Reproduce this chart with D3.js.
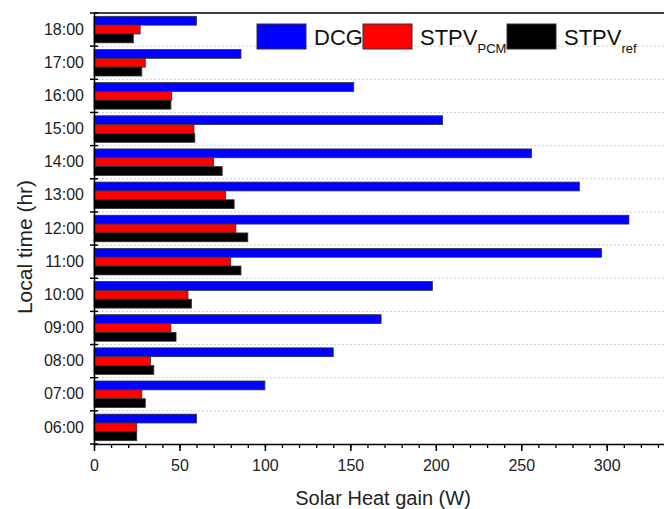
<!DOCTYPE html>
<html>
<head>
<meta charset="utf-8">
<script src="https://cdn.jsdelivr.net/npm/d3@7"></script>
<style>
  html, body { margin: 0; padding: 0; background: #fff; }
  svg { display: block; font-family: "Liberation Sans", Arial, sans-serif; }
</style>
</head>
<body>
<svg id="chart" width="664" height="509"></svg>
<script>
// Hourly solar heat gain for three glazing configurations
const hours = ["06:00","07:00","08:00","09:00","10:00","11:00","12:00","13:00","14:00","15:00","16:00","17:00","18:00"];
const dcg     = [60, 100, 140, 168, 198, 297, 313, 284, 256, 204, 152, 86, 60];
const stpvPcm = [25, 28, 33, 45, 55, 80, 83, 77, 70, 58.5, 45.5, 30, 27];
const stpvRef = [25, 30, 35, 48, 57, 86, 90, 82, 75, 59, 45, 28, 23];
const seriesNames = ["DCG", "STPV_PCM", "STPV_ref"];
const seriesColors = ["#0000ff", "#ff0000", "#000000"];
const xMajorTicks = [0, 50, 100, 150, 200, 250, 300];

const svg = d3.select("#chart");
const margin = { left: 94, top: 13, bottom: 444 };
const xMax = 340;
const FONT = "'Liberation Sans', Arial, sans-serif";

const x = d3.scaleLinear().domain([0, xMax]).range([margin.left, margin.left + xMax * 1.709]);
const y = d3.scaleBand().domain(hours.slice().reverse()).range([margin.top, margin.bottom]).paddingInner(0).paddingOuter(0);
const inner = d3.scaleBand().domain(seriesNames).range([y.bandwidth() * 0.1, y.bandwidth() * 0.9]);

const values = [dcg, stpvPcm, stpvRef];

// dotted gridlines at category boundaries
const boundaries = hours.map(h => y(h)).concat([margin.bottom]);
svg.append("g").selectAll("line")
  .data(boundaries.filter(b => b > margin.top + 1 && b < margin.bottom - 1))
  .join("line")
  .attr("x1", margin.left).attr("x2", 664)
  .attr("y1", d => d).attr("y2", d => d)
  .attr("stroke", "#d0d0d0").attr("stroke-width", 1)
  .attr("stroke-dasharray", "2,2");

// bars
const rows = [];
hours.forEach((h, i) => {
  seriesNames.forEach((s, j) => rows.push({ hour: h, series: s, value: values[j][i], color: seriesColors[j] }));
});
svg.append("g").selectAll("rect")
  .data(rows)
  .join("rect")
  .attr("x", x(0))
  .attr("y", d => y(d.hour) + inner(d.series))
  .attr("width", d => x(d.value) - x(0))
  .attr("height", inner.bandwidth())
  .attr("fill", d => d.color)
  .attr("stroke", "#333")
  .attr("stroke-width", 0.8);

// frame top
svg.append("line")
  .attr("x1", margin.left).attr("x2", 664)
  .attr("y1", margin.top).attr("y2", margin.top)
  .attr("stroke", "#000").attr("stroke-width", 1.5);

// x axis: minor + major ticks
const xMinor = svg.append("g").attr("transform", `translate(0,${margin.bottom})`)
  .call(d3.axisBottom(x).tickValues(d3.range(0, xMax + 1, 10)).tickSize(4).tickFormat(""));
xMinor.select(".domain").remove();
xMinor.selectAll("line").attr("stroke-width", 1.3);

const xAxis = svg.append("g").attr("transform", `translate(0,${margin.bottom})`)
  .call(d3.axisBottom(x).tickValues(xMajorTicks).tickSize(7).tickSizeOuter(0).tickPadding(9));
xAxis.select(".domain").attr("stroke-width", 1.5);
xAxis.selectAll("line").attr("stroke-width", 1.5);
xAxis.selectAll("text").attr("font-size", 16).attr("fill", "#222").attr("font-family", FONT);

// y axis: labels centred on categories, ticks on boundaries
const yAxis = svg.append("g").attr("transform", `translate(${margin.left},0)`)
  .call(d3.axisLeft(y).tickSize(0).tickPadding(10));
yAxis.select(".domain").attr("stroke-width", 1.5);
yAxis.selectAll("text").attr("font-size", 16).attr("fill", "#222").attr("font-family", FONT);
svg.append("g").selectAll("line")
  .data(boundaries)
  .join("line")
  .attr("x1", margin.left - 4).attr("x2", margin.left + 4)
  .attr("y1", d => d).attr("y2", d => d)
  .attr("stroke", "#000").attr("stroke-width", 1.5);

// axis titles
svg.append("text")
  .attr("x", 383).attr("y", 505)
  .attr("text-anchor", "middle")
  .attr("font-size", 20).attr("fill", "#222")
  .text("Solar Heat gain (W)");
svg.append("text")
  .attr("transform", "translate(32,247) rotate(-90)")
  .attr("text-anchor", "middle")
  .attr("font-size", 21).attr("fill", "#222")
  .text("Local time (hr)");

// legend
const legendItems = [
  { x: 257, main: "DCG", sub: "", color: seriesColors[0] },
  { x: 363, main: "STPV", sub: "PCM", color: seriesColors[1] },
  { x: 507, main: "STPV", sub: "ref", color: seriesColors[2] }
];
const lg = svg.append("g");
legendItems.forEach(it => {
  lg.append("rect")
    .attr("x", it.x).attr("y", 24).attr("width", 49).attr("height", 25)
    .attr("fill", it.color).attr("stroke", "#333").attr("stroke-width", 1);
  const t = lg.append("text")
    .attr("x", it.x + 57).attr("y", 45)
    .attr("font-size", 22).attr("fill", "#111");
  t.append("tspan").text(it.main);
  if (it.sub) {
    t.append("tspan").attr("font-size", 13).attr("dy", 8).text(it.sub);
  }
});
</script>
</body>
</html>
